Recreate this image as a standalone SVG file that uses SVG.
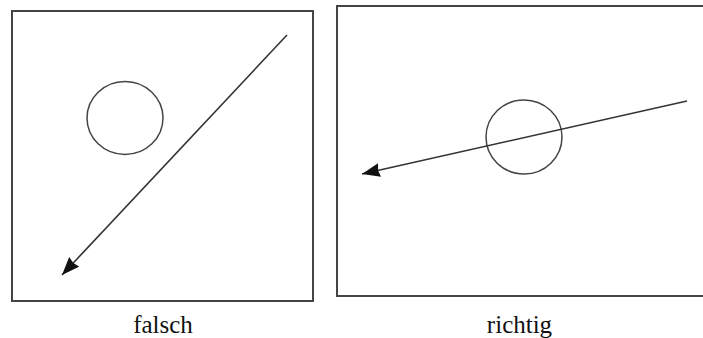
<svg xmlns="http://www.w3.org/2000/svg" width="703" height="338" viewBox="0 0 703 338">
<style>
.frame{fill:none;stroke:#444;stroke-width:2}
.obj{fill:none;stroke:#444;stroke-width:1.5}
.path{fill:none;stroke:#333;stroke-width:1.6}
.lbl{fill:#111;text-anchor:middle}
</style>
<defs>
<marker id="ah" markerUnits="userSpaceOnUse" markerWidth="20" markerHeight="16" refX="18" refY="7" orient="auto">
<path d="M0,0 L18,7 L0,14 L1.5,7 z" fill="#111"/>
</marker>
</defs>
<g id="falsch">
<rect class="frame" x="12" y="11" width="301" height="290"/>
<ellipse class="obj" cx="125" cy="118" rx="38" ry="36.5"/>
<text class="lbl" x="163" y="333" font-family="Liberation Serif, Times New Roman, serif" font-size="25">falsch</text>
</g>
<g id="richtig">
<path class="frame" d="M703,6 L337,6 L337,296 L703,296"/>
<ellipse class="obj" cx="524" cy="137" rx="38" ry="37"/>
<text class="lbl" x="519.5" y="333" font-family="Liberation Serif, Times New Roman, serif" font-size="25">richtig</text>
</g>
<g id="connectors">
<line class="path" x1="287" y1="35" x2="62" y2="275" marker-end="url(#ah)"/>
<line class="path" x1="687" y1="101" x2="362" y2="174" marker-end="url(#ah)"/>
</g>
</svg>
